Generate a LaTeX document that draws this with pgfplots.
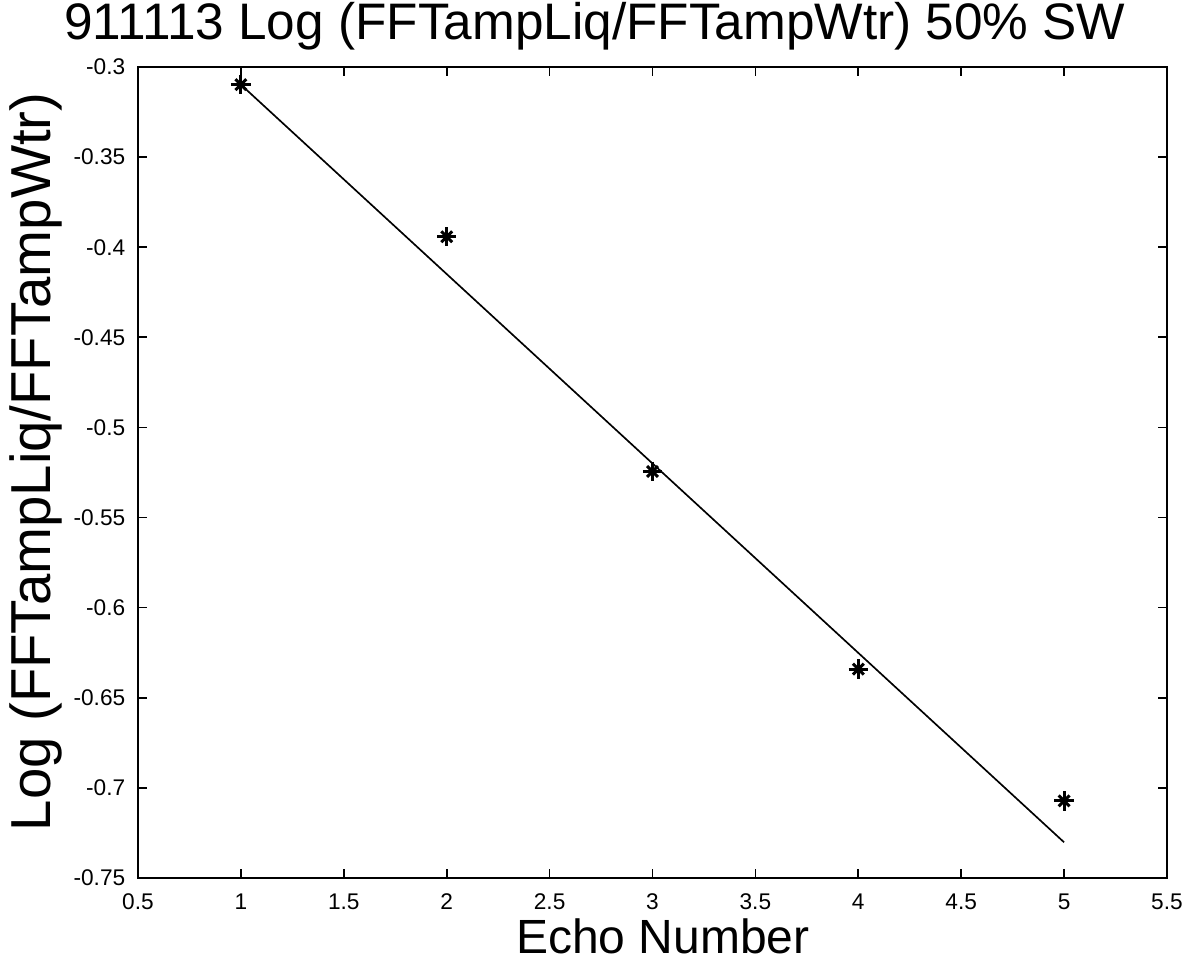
\documentclass[border=0pt]{standalone}
\usepackage{pgfplots}
\pgfplotsset{compat=1.18}
\usepackage{fontspec}
\setmainfont{Liberation Sans}

\begin{document}
\begin{tikzpicture}
  \useasboundingbox (-41.4pt,-24.6pt) rectangle (313.5pt,263.4pt);
  % echo data (stars) and the fitted line
  \begin{axis}[
      scale only axis,
      width=308.7pt, height=243.3pt,
      at={(0pt,0pt)}, anchor=south west,
      xmin=0.5, xmax=5.5, ymin=-0.75, ymax=-0.3,
      xtick={0.5,1,...,5.5},
      ytick={-0.75,-0.7,...,-0.3},
      tick align=inside,
      major tick length=2.8pt,
      axis line style={line width=0.6pt},
      every tick/.style={black, line width=0.5pt},
      /pgf/number format/assume math mode=true,
      /pgf/number format/fixed,
      /pgf/number format/precision=2,
      tick label style={font=\fontsize{6.8}{7}\selectfont},
      xticklabel style={yshift=-1.2pt},
      yticklabel style={xshift=-0.3pt},
      title={911113 Log (FFTampLiq/FFTampWtr) 50\% SW},
      every axis title/.style={font=\fontsize{15.4}{17}\selectfont,
                   at={(rel axis cs:0.444,1.0345)}, anchor=base},
      xlabel={Echo Number},
      xlabel style={font=\fontsize{14.4}{16}\selectfont,
                    at={(rel axis cs:0.51,-0.0925)}, anchor=base},
      ylabel={Log (FFTampLiq/FFTampWtr)},
      ylabel style={font=\fontsize{16.9}{19}\selectfont,
                    at={(rel axis cs:-0.0855,0.513)}, anchor=base},
    ]
    \addplot[black, line width=0.5pt, mark=none]
      coordinates {(1,-0.3098) (5,-0.7302)};
    \addplot[only marks, mark=+, mark size=2.9pt, black, mark options={line width=0.9pt}]
      coordinates {(1,-0.3098) (2,-0.3942) (3,-0.5244) (4,-0.6341) (5,-0.7072)};
    \addplot[only marks, mark=x, mark size=2.3pt, black, mark options={line width=0.9pt}]
      coordinates {(1,-0.3098) (2,-0.3942) (3,-0.5244) (4,-0.6341) (5,-0.7072)};
  \end{axis}
\end{tikzpicture}
\end{document}
